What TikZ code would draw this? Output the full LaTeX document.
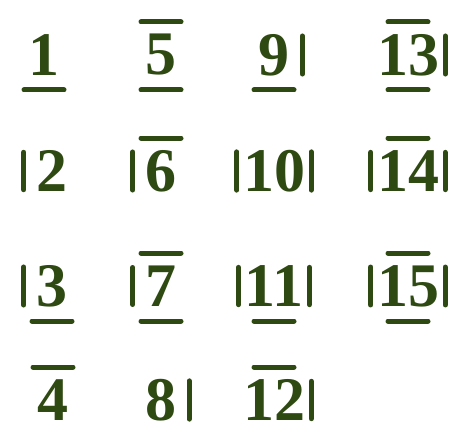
\documentclass[tikz,border=0pt]{standalone}
\usepackage{fontspec}
\setmainfont{Liberation Serif}
\usepackage{xcolor}
\definecolor{glyphgreen}{HTML}{2E4A12}
\tikzset{
  digit/.style={font=\fontsize{62}{62}\selectfont\bfseries, text=glyphgreen,
    inner xsep=6pt, inner ysep=0pt, minimum width=56pt},
  edgebar/.style={draw=glyphgreen, line width=5pt, line cap=round}
}
\newcommand{\barTop}[1]{\draw[edgebar] ([xshift=-20pt,yshift=33pt]#1.center) -- ([xshift=20pt,yshift=33pt]#1.center);}
\newcommand{\barBot}[1]{\draw[edgebar] ([xshift=-20pt,yshift=-35pt]#1.center) -- ([xshift=20pt,yshift=-35pt]#1.center);}
\newcommand{\barLeft}[1]{\draw[edgebar] ([yshift=-2pt]#1.north west) -- ([yshift=2pt]#1.south west);}
\newcommand{\barRight}[1]{\draw[edgebar] ([yshift=-2pt]#1.north east) -- ([yshift=2pt]#1.south east);}
\begin{document}
\begin{tikzpicture}[x=1pt,y=-1pt]
        \useasboundingbox (0,0) rectangle (468,441);
        % first column
        \node[digit] (n1) at (44,55) {1};
        \node[digit] (n2) at (52,171) {2};
        \node[digit] (n3) at (52,286) {3};
        \node[digit] (n4) at (53,400) {4};
        % second column
        \node[digit] (n5) at (161,55) {5};
        \node[digit] (n6) at (161,171) {6};
        \node[digit] (n7) at (161,286) {7};
        \node[digit] (n8) at (161,400) {8};
        % third column
        \node[digit] (n9) at (274,55) {9};
        \node[digit] (n10) at (274,171) {10};
        \node[digit] (n11) at (274,286) {11};
        \node[digit] (n12) at (274,400) {12};
        % fourth column
        \node[digit] (n13) at (408,55) {13};
        \node[digit] (n14) at (408,171) {14};
        \node[digit] (n15) at (408,286) {15};
        % bars
        \barBot{n1}
        \barLeft{n2}
        \barLeft{n3} \barBot{n3}
        \barTop{n4}
        \barTop{n5} \barBot{n5}
        \barTop{n6} \barLeft{n6}
        \barTop{n7} \barLeft{n7} \barBot{n7}
        \barRight{n8}
        \barRight{n9} \barBot{n9}
        \barLeft{n10} \barRight{n10}
        \barLeft{n11} \barRight{n11} \barBot{n11}
        \barTop{n12} \barRight{n12}
        \barTop{n13} \barRight{n13} \barBot{n13}
        \barTop{n14} \barLeft{n14} \barRight{n14}
        \barTop{n15} \barLeft{n15} \barRight{n15} \barBot{n15}
\end{tikzpicture}
\end{document}
